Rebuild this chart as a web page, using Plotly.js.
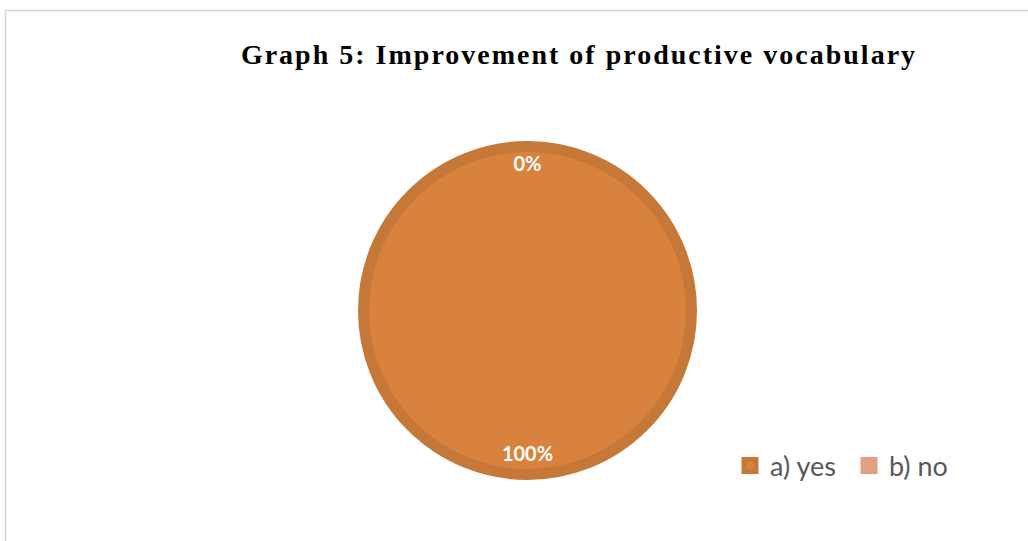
<!DOCTYPE html>
<html>
<head>
<meta charset="utf-8">
<script src="https://cdn.plot.ly/plotly-3.0.1.min.js"></script>
<style>
  html, body { margin: 0; padding: 0; background: #fff; }
  #chart { width: 1028px; height: 541px; }
  #chart .gtitle { letter-spacing: 2px; }
</style>
</head>
<body>
<div id="chart"></div>
<script>
// ---- data ----
const categories = ["a) yes", "b) no"];
const values = [100, 0];
const sliceColors = ["#D9823D", "#E3A080"];
const edgeColors = ["#C57837", "#E3A080"];
const chartTitle = "Graph 5: Improvement of productive vocabulary";

// ---- derived slice geometry (from cumulative shares) ----
const total = values.reduce((a, b) => a + b, 0);
let cum = 0;
const shares = [], midTheta = [], widthDeg = [], labelText = [];
values.forEach(v => {
  const share = v / total;
  shares.push(share);
  midTheta.push((cum + share / 2) * 360);
  widthDeg.push(share * 360);
  labelText.push(Math.round(share * 100) + "%");
  cum += share;
});

const W = 1028, H = 541;
const cx = 527.5, cy = 310.5;
const Rpath = 164, Rdom = 172;
const dom = {
  x: [(cx - Rdom) / W, (cx + Rdom) / W],
  y: [(H - cy - Rdom) / H, (H - cy + Rdom) / H]
};

const edgeWidths = [11, 5];
const labelR = [0.887, 0.882];

// draw "no" first so the full "yes" disc sits on top of any zero-width edge
const traces = [];
[1, 0].forEach(i => {
  traces.push({
    type: "barpolar",
    name: categories[i],
    r: [1],
    theta: [midTheta[i]],
    width: [widthDeg[i]],
    marker: { color: sliceColors[i], line: { color: edgeColors[i], width: edgeWidths[i] } },
    hoverinfo: "name",
    subplot: "polar"
  });
});

traces.push({
  type: "scatterpolar",
  mode: "text",
  r: labelR,
  theta: midTheta,
  text: labelText,
  textposition: "middle center",
  textfont: { family: "Lato, 'Open Sans', sans-serif", size: 20, color: "#FFFFFF", weight: 700 },
  showlegend: false,
  hoverinfo: "skip",
  cliponaxis: false,
  subplot: "polar"
});

const layout = {
  width: W,
  height: H,
  margin: { l: 0, r: 0, t: 0, b: 0 },
  paper_bgcolor: "#FFFFFF",
  title: {
    text: "<b>" + chartTitle + "</b>",
    font: { family: "'Liberation Serif', 'Times New Roman', serif", size: 28, color: "#000000" },
    x: 579 / W,
    xanchor: "center",
    y: 1 - 54 / H,
    yanchor: "middle"
  },
  polar: {
    domain: dom,
    bgcolor: "rgba(0,0,0,0)",
    bargap: 0,
    angularaxis: { visible: false, rotation: 90, direction: "clockwise" },
    radialaxis: { visible: false, range: [0, Rdom / Rpath] }
  },
  legend: {
    orientation: "h",
    traceorder: "reversed",
    x: 730 / W,
    xanchor: "left",
    y: 1 - 466 / H,
    yanchor: "middle",
    entrywidth: 74,
    font: { family: "Lato, 'Open Sans', sans-serif", size: 27, color: "#595959" },
    bgcolor: "rgba(0,0,0,0)"
  },
  shapes: [{
    type: "rect", xref: "paper", yref: "paper",
    x0: 5.5 / W, x1: 1.2, y0: -0.2, y1: 1 - 10.5 / H,
    line: { color: "#D6D6D6", width: 1.5 },
    layer: "below"
  }]
};

Plotly.newPlot("chart", traces, layout, { displayModeBar: false, staticPlot: true });
</script>
</body>
</html>
